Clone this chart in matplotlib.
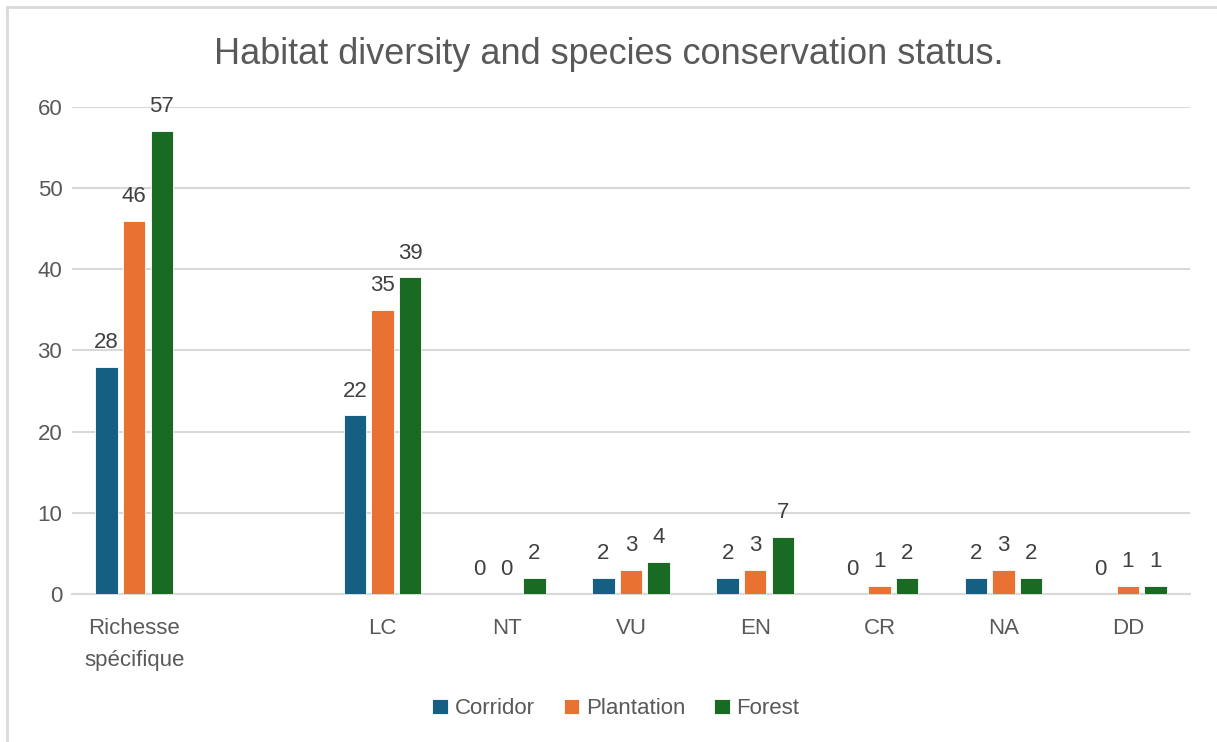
import numpy as np
import matplotlib
matplotlib.use("Agg")
import matplotlib.pyplot as plt
from matplotlib.lines import Line2D

plt.rcParams["font.family"] = ["Liberation Sans", "DejaVu Sans"]

categories = ["Richesse\nspécifique", "", "LC", "NT", "VU", "EN", "CR", "NA", "DD"]
corridor = [28, np.nan, 22, 0, 2, 2, 0, 2, 0]
plantation = [46, np.nan, 35, 0, 3, 3, 1, 3, 1]
forest = [57, np.nan, 39, 2, 4, 7, 2, 2, 1]

series = [
    ("Corridor", corridor, "#156082"),
    ("Plantation", plantation, "#E97132"),
    ("Forest", forest, "#196B24"),
]

GRID = "#d9d9d9"
TEXT = "#595959"
LABEL = "#404040"

fig = plt.figure(figsize=(12.17, 7.42), dpi=100)
ax = fig.add_axes([0.0592, 0.1995, 0.9186, 0.6563])

x = np.arange(len(categories))
step = 0.222
width = 0.18

for i, (name, vals, color) in enumerate(series):
    pos = x + (i - 1) * step
    ax.bar(pos, vals, width=width, color=color, label=name,
           edgecolor="white", linewidth=0.6, zorder=3)
    for xi, v in zip(pos, vals):
        if np.isnan(v):
            continue
        ax.annotate(f"{v:g}", (xi, v), xytext=(0, 10), textcoords="offset points",
                    ha="center", va="bottom", fontsize=16, color=LABEL)

ax.set_xlim(-0.5, len(categories) - 0.5)
ax.set_ylim(0, 60)
ax.set_yticks(range(0, 61, 10))
ax.yaxis.grid(True, color=GRID, linewidth=1.5, zorder=0)
ax.set_xticks(x)
ax.set_xticklabels(categories, fontsize=16, color=TEXT, linespacing=1.7)
ax.tick_params(axis="y", labelsize=16, labelcolor=TEXT, length=0, pad=7)
ax.tick_params(axis="x", length=0, pad=17)
for side in ["top", "right", "left"]:
    ax.spines[side].set_visible(False)
ax.spines["bottom"].set_color(GRID)
ax.spines["bottom"].set_linewidth(1.5)

fig.suptitle("Habitat diversity and species conservation status.",
             fontsize=26, color=TEXT, y=0.927, va="center")

fig.legend(loc="center", bbox_to_anchor=(0.506, 0.045), ncol=3, frameon=False,
           fontsize=16, labelcolor=TEXT, handlelength=0.7, handleheight=0.7,
           handletextpad=0.3, columnspacing=1.3)

# thin frame along top and left edges
fig.add_artist(Line2D([0.006, 1.0], [0.99, 0.99], color=GRID, linewidth=2,
                      transform=fig.transFigure))
fig.add_artist(Line2D([0.006, 0.006], [0.0, 0.99], color=GRID, linewidth=2,
                      transform=fig.transFigure))

fig.savefig("out.png", dpi=100, facecolor="white")
